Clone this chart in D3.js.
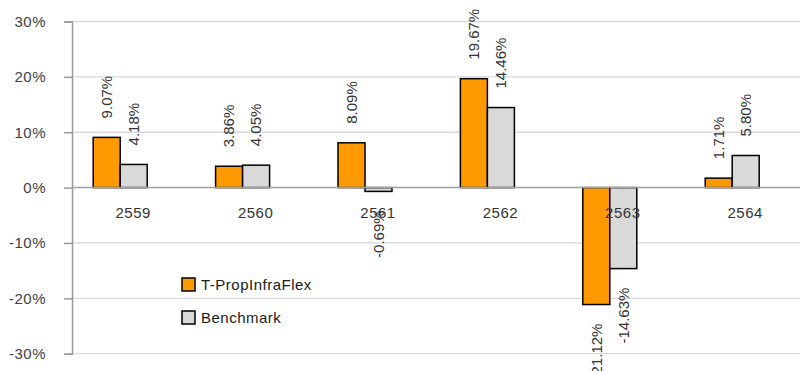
<!DOCTYPE html>
<html>
<head>
<meta charset="utf-8">
<script src="https://cdn.jsdelivr.net/npm/d3@7"></script>
<style>
  html, body { margin: 0; padding: 0; background: #fff; }
  svg { display: block; font-family: Arial, "Liberation Sans", sans-serif; }
</style>
</head>
<body>
<svg id="chart" width="800" height="371"></svg>
<script>
// Yearly returns (Buddhist Era years), fund vs benchmark
const years = ["2559", "2560", "2561", "2562", "2563", "2564"];
const seriesNames = ["T-PropInfraFlex", "Benchmark"];
const fundReturns = [9.07, 3.86, 8.09, 19.67, -21.12, 1.71];
const benchmarkReturns = [4.18, 4.05, -0.69, 14.46, -14.63, 5.80];
const yTicks = [-30, -20, -10, 0, 10, 20, 30];
const seriesColors = ["#FF9900", "#D9D9D9"];

const svg = d3.select("#chart");
const W = 800, H = 371;
const axisX = 72, plotTop = 21.5, plotBottom = 353.7;

const y = d3.scaleLinear().domain([-30, 30]).range([plotBottom, plotTop]);
const x0 = d3.scaleBand().domain(years).range([axisX, axisX + 6 * 122.4]).padding(0);
const x1 = d3.scaleBand().domain(seriesNames).range([0, 54]).padding(0);
const color = d3.scaleOrdinal().domain(seriesNames).range(seriesColors);
// bar pair sits slightly left of each category centre
const groupShift = -40;

const rows = years.map((yr, i) => ({
  year: yr,
  values: [
    { name: seriesNames[0], v: fundReturns[i] },
    { name: seriesNames[1], v: benchmarkReturns[i] }
  ]
}));

// gridlines
svg.append("g").selectAll("line")
  .data(yTicks.filter(t => t !== 0))
  .join("line")
  .attr("x1", axisX).attr("x2", W)
  .attr("y1", d => y(d)).attr("y2", d => y(d))
  .attr("stroke", "#d9d9d9").attr("stroke-width", 1.3);

// y tick labels and tick marks
const yAxis = d3.axisLeft(y).tickValues(yTicks).tickSize(8).tickPadding(18)
  .tickFormat(d => d + "%");
const gy = svg.append("g").attr("transform", `translate(${axisX},0)`).call(yAxis);
gy.select(".domain").attr("stroke", "#999").attr("stroke-width", 1.5);
gy.selectAll(".tick line").attr("stroke", "#999").attr("stroke-width", 1.5);
gy.selectAll(".tick text")
  .attr("fill", "#404040").style("font-size", "15px").style("letter-spacing", "0.5px")
  .attr("font-family", "Arial, 'Liberation Sans', sans-serif");

// bars
const groups = svg.append("g").selectAll("g")
  .data(rows)
  .join("g")
  .attr("transform", d => `translate(${x0(d.year) + x0.bandwidth() / 2 + groupShift},0)`);

groups.selectAll("rect")
  .data(d => d.values)
  .join("rect")
  .attr("x", d => x1(d.name))
  .attr("width", x1.bandwidth())
  .attr("y", d => y(Math.max(0, d.v)))
  .attr("height", d => Math.abs(y(d.v) - y(0)))
  .attr("fill", d => color(d.name))
  .attr("stroke", "#000").attr("stroke-width", 1.5);

// value labels, rotated, just outside the bar end
const gap = 19;
groups.selectAll("text.val")
  .data(d => d.values)
  .join("text")
  .attr("class", "val")
  .attr("transform", d => {
    const cx = x1(d.name) + x1.bandwidth() / 2;
    const cy = d.v >= 0 ? y(d.v) - gap : y(d.v) + gap;
    return `translate(${cx},${cy}) rotate(-90)`;
  })
  .attr("text-anchor", d => d.v >= 0 ? "start" : "end")
  .attr("dy", "0.35em")
  .attr("fill", "#333")
  .style("font-size", "15px")
  .text(d => d.v.toFixed(2) + "%");

// zero baseline
svg.append("line")
  .attr("x1", axisX).attr("x2", W)
  .attr("y1", y(0)).attr("y2", y(0))
  .attr("stroke", "#a0a0a0").attr("stroke-width", 1.5);

// category labels
svg.append("g").selectAll("text")
  .data(years)
  .join("text")
  .attr("x", d => x0(d) + x0.bandwidth() / 2)
  .attr("y", 218)
  .attr("text-anchor", "middle")
  .attr("fill", "#333")
  .style("font-size", "15px").style("letter-spacing", "0.5px")
  .text(d => d);

// legend
const legend = svg.append("g").attr("transform", "translate(182,278)");
const items = legend.selectAll("g")
  .data(seriesNames)
  .join("g")
  .attr("transform", (d, i) => `translate(0,${i * 33})`);
items.append("rect")
  .attr("width", 13).attr("height", 13)
  .attr("fill", d => color(d))
  .attr("stroke", "#000").attr("stroke-width", 1.5);
items.append("text")
  .attr("x", 19).attr("y", 6.5).attr("dy", "0.35em")
  .attr("fill", "#1a1a1a")
  .style("font-size", "15px").style("letter-spacing", "0.5px")
  .text(d => d);
</script>
</body>
</html>
